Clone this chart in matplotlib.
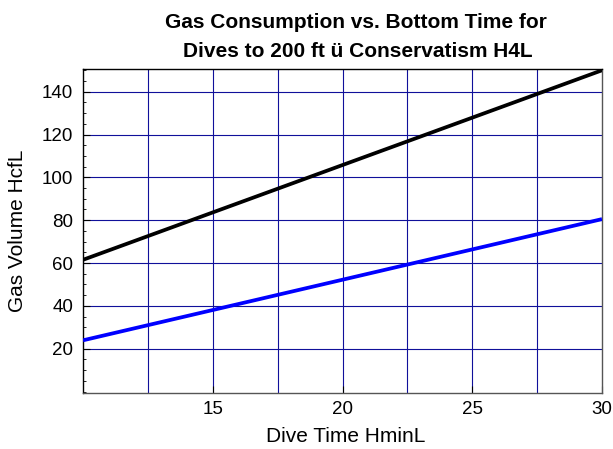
import numpy as np
import matplotlib.pyplot as plt
from matplotlib.ticker import MultipleLocator

plt.rcParams['font.family'] = ['Liberation Sans', 'DejaVu Sans']

# dive time (min) and gas volume (cf)
dive_time = [10, 30]
gas_black = [61.5, 150.0]
gas_blue = [23.9, 80.5]

x_ticks = [15, 20, 25, 30]
y_ticks = [20, 40, 60, 80, 100, 120, 140]
x_grid = [12.5, 15, 17.5, 20, 22.5, 25, 27.5]

W, H = 613, 449
fig = plt.figure(figsize=(W / 100, H / 100), dpi=100)
ax = fig.add_axes([83 / W, 1 - 393 / H, (602 - 83) / W, (393 - 69) / H])

# grid
for gx in x_grid:
    ax.axvline(gx, color='#10109a', lw=0.8, zorder=1)
for gy in y_ticks:
    ax.axhline(gy, color='#10109a', lw=0.8, zorder=1)

ax.plot(dive_time, gas_black, color='black', lw=2.7, zorder=3, solid_capstyle='butt')
ax.plot(dive_time, gas_blue, color='#0000ff', lw=2.7, zorder=3, solid_capstyle='butt')

ax.set_xlim(10, 30)
ax.set_ylim(-0.7, 150.6)
ax.set_xticks(x_ticks)
ax.set_yticks(y_ticks)
ax.yaxis.set_minor_locator(MultipleLocator(5))
ax.tick_params(which='both', direction='in', top=False, right=False)
ax.tick_params(which='major', length=5, width=0.8, labelsize=13.5)
ax.tick_params(which='minor', length=2.5, width=0.6)
ax.tick_params(axis='x', pad=6)
ax.tick_params(axis='y', pad=7)
for s in ax.spines.values():
    s.set_linewidth(1.0)
ax.spines['bottom'].set_color('#555555')
ax.spines['right'].set_color('#555555')

fig.text(346 / W, 1 - 442 / H, 'Dive Time HminL', fontsize=15,
         ha='center', va='baseline')
fig.text(18 / W, 1 - 231 / H, 'Gas Volume HcfL', fontsize=15,
         ha='center', va='center', rotation=90)
fig.text(356 / W, 1 - 28 / H, 'Gas Consumption vs. Bottom Time for',
         fontsize=15, fontweight='bold', ha='center', va='baseline')
fig.text(358 / W, 1 - 57 / H, 'Dives to 200 ft ü Conservatism H4L',
         fontsize=15, fontweight='bold', ha='center', va='baseline')

fig.savefig('out.png', dpi=100)
